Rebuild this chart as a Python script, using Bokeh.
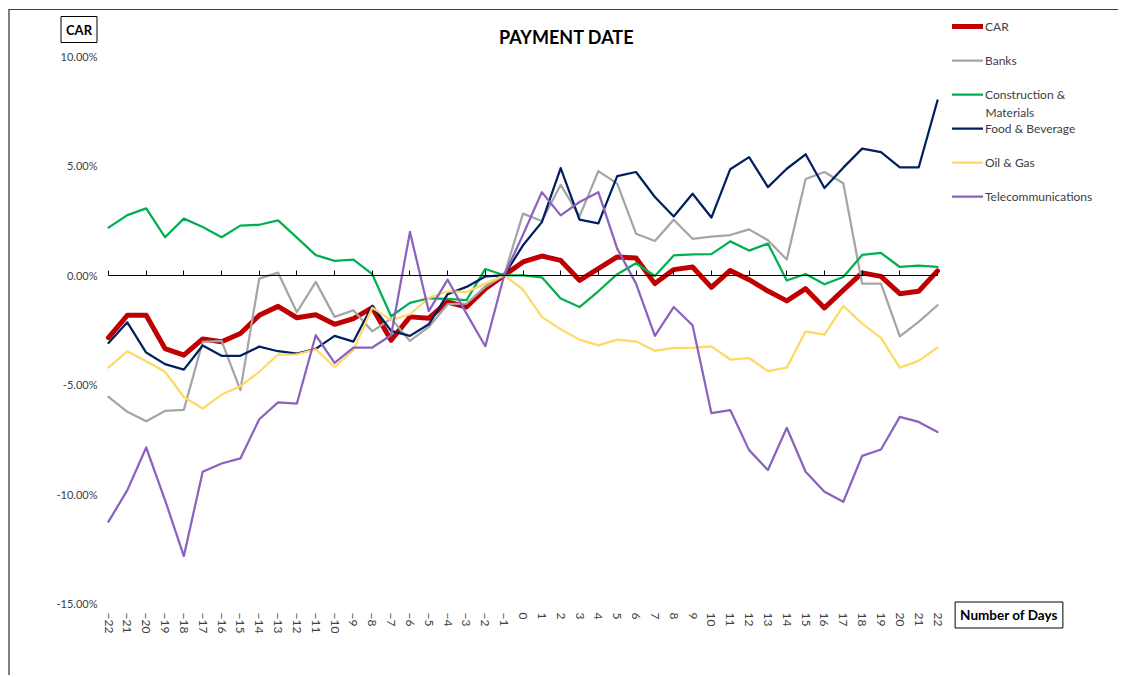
from bokeh.plotting import figure
from bokeh.models import (Range1d, LinearAxis, FixedTicker, PrintfTickFormatter,
                          Legend, LegendItem, Label, BasicTickFormatter)
from bokeh.embed import file_html
from bokeh.resources import INLINE

days = list(range(-22, 23))

car = [-2.85, -1.83, -1.83, -3.35, -3.65, -2.91, -3.04, -2.66, -1.83, -1.42, -1.94,
       -1.80, -2.24, -1.98, -1.48, -2.97, -1.90, -1.96, -1.22, -1.45, -0.61, 0.0,
       0.61, 0.88, 0.68, -0.23, 0.31, 0.84, 0.79, -0.38, 0.26, 0.38, -0.55, 0.22,
       -0.20, -0.72, -1.17, -0.61, -1.49, -0.68, 0.11, -0.05, -0.84, -0.73, 0.20]
banks = [-5.56, -6.24, -6.67, -6.20, -6.15, -3.04, -3.00, -5.25, -0.15, 0.12, -1.69,
         -0.30, -1.90, -1.60, -2.56, -1.98, -3.00, -2.36, -1.32, -1.29, -0.53, 0.0,
         2.82, 2.48, 4.14, 2.69, 4.76, 4.19, 1.90, 1.57, 2.54, 1.67, 1.77, 1.84,
         2.10, 1.60, 0.72, 4.40, 4.72, 4.21, -0.38, -0.38, -2.79, -2.13, -1.37]
construction = [2.18, 2.75, 3.06, 1.74, 2.59, 2.21, 1.74, 2.27, 2.31, 2.51, 1.72,
                0.92, 0.66, 0.72, 0.05, -1.87, -1.26, -1.05, -1.08, -1.14, 0.29, 0.0,
                0.0, -0.09, -1.06, -1.45, -0.73, 0.05, 0.55, -0.03, 0.91, 0.96, 0.97, 1.55,
                1.13, 1.45, -0.24, 0.06, -0.41, -0.08, 0.93, 1.02, 0.38, 0.44, 0.38]
food = [-3.09, -2.15, -3.53, -4.06, -4.31, -3.21, -3.68, -3.68, -3.26, -3.47, -3.58,
        -3.36, -2.77, -3.03, -1.39, -2.54, -2.77, -2.24, -0.86, -0.53, -0.05, 0.0,
        1.37, 2.43, 4.90, 2.54, 2.37, 4.53, 4.72, 3.58, 2.69, 3.73, 2.64, 4.85,
        5.40, 4.03, 4.87, 5.53, 3.99, 4.92, 5.79, 5.63, 4.93, 4.93, 7.99]
oil = [-4.22, -3.47, -3.93, -4.41, -5.56, -6.09, -5.45, -5.07, -4.41, -3.62, -3.61,
       -3.38, -4.19, -3.42, -1.48, -2.05, -1.78, -1.04, -0.73, -0.76, -0.38, 0.0,
       -0.65, -1.90, -2.47, -2.94, -3.20, -2.94, -3.03, -3.45, -3.32, -3.32, -3.25, -3.85,
       -3.78, -4.38, -4.22, -2.56, -2.71, -1.40, -2.21, -2.86, -4.22, -3.91, -3.30]
telecom = [-11.26, -9.82, -7.87, -10.27, -12.83, -8.98, -8.60, -8.37, -6.58, -5.81, -5.86,
           -2.74, -4.00, -3.30, -3.30, -2.74, 1.98, -1.64, -0.20, -1.75, -3.24, 0.0,
           1.85, 3.80, 2.74, 3.35, 3.80, 1.22, -0.38, -2.77, -1.45, -2.28, -6.30, -6.16,
           -7.99, -8.90, -6.97, -8.98, -9.89, -10.35, -8.25, -7.96, -6.47, -6.70, -7.16]

series_names = ["CAR", "Banks", "Construction &", "Food & Beverage", "Oil & Gas", "Telecommunications"]
series_names_extra = "Materials"
series_colors = ["#C00000", "#A5A5A5", "#00B050", "#002060", "#FFD966", "#8B62BD"]
series_widths = [5, 2.25, 2.25, 2.25, 2.25, 2.25]
y_ticks = [-15, -10, -5, 0, 5, 10]
x_major_ticks = days[::2]

title_text = "PAYMENT DATE"
y_title = "CAR"
x_title = "Number of Days"

FONT = "Lato"
TXT = "#404040"

# ---- layout (pixels) ----
W, H = 1110, 666
OX, OY = 10, 10                 # canvas origin on the page (margin + border)
PX_LEFT, PX_RIGHT = 108, 937    # page x of first / last day
PX_TOP, PX_BOTTOM = 56, 603     # page y of y_max / y_min
Y_MIN, Y_MAX = y_ticks[0], y_ticks[-1]

kx = (PX_RIGHT - PX_LEFT) / (days[-1] - days[0])
ky = (PX_BOTTOM - PX_TOP) / (Y_MAX - Y_MIN)
x0 = days[0] - (PX_LEFT - OX) / kx
x1 = x0 + W / kx
y1 = Y_MAX + (PX_TOP - OY) / ky
y0 = y1 - H / ky


def sx(page_x):
    return page_x - OX


def sy(page_y):
    return OY + H - page_y


p = figure(width=W, height=H, output_backend="svg", toolbar_location=None,
           x_axis_type=None, y_axis_type=None,
           x_range=Range1d(x0, x1), y_range=Range1d(y0, y1),
           min_border_left=0, min_border_right=0, min_border_top=0, min_border_bottom=0)
p.grid.visible = False
p.outline_line_color = None
p.background_fill_color = "white"
p.border_fill_color = "white"
p.styles = {"margin-left": "8px", "margin-top": "9px",
            "border-left": "2px solid #7f7f7f", "border-top": "1px solid #404040"}

# y axis (labels only), fixed at first day
yax = LinearAxis(fixed_location=days[0], ticker=FixedTicker(ticks=y_ticks),
                 formatter=PrintfTickFormatter(format="%.2f%%"))
yax.axis_line_color = None
yax.major_tick_line_color = None
yax.minor_tick_line_color = None
yax.major_tick_in = 0
yax.major_tick_out = 0
yax.major_label_standoff = 11
yax.major_label_text_font = FONT
yax.major_label_text_font_size = "11px"
yax.major_label_text_color = TXT
p.add_layout(yax, "left")

# horizontal axis line at 0 with inward ticks
zax = LinearAxis(fixed_location=0, bounds=(days[0], days[-1]), ticker=FixedTicker(ticks=x_major_ticks))
zax.axis_line_color = "black"
zax.axis_line_width = 1
zax.major_tick_in = 5
zax.major_tick_out = 0
zax.major_tick_line_color = "black"
zax.minor_tick_line_color = None
zax.major_label_text_font_size = "0px"
zax.major_label_text_color = None
p.add_layout(zax, "below")

# bottom category labels at the minimum of the value axis
xax = LinearAxis(fixed_location=Y_MIN, bounds=(days[0], days[-1]),
                 ticker=FixedTicker(ticks=days), formatter=BasicTickFormatter())
xax.axis_line_color = None
xax.major_tick_line_color = None
xax.minor_tick_line_color = None
xax.major_tick_in = 0
xax.major_tick_out = 0
xax.major_label_orientation = "vertical"
xax.major_label_standoff = 9
xax.major_label_text_font = FONT
xax.major_label_text_font_size = "12px"
xax.major_label_text_color = TXT
p.add_layout(xax, "below")

all_series = [car, banks, construction, food, oil, telecom]
items = []
for name, vals, col, w in zip(series_names, all_series, series_colors, series_widths):
    r = p.line(days, vals, line_color=col, line_width=w, line_join="round", line_cap="round")
    items.append(LegendItem(label=name, renderers=[r]))

legend = Legend(items=items, location=(sx(952), sy(204)), orientation="vertical",
                padding=0, margin=0, spacing=18, glyph_width=31, glyph_height=16,
                label_height=16, label_standoff=2,
                label_text_font=FONT, label_text_font_size="12px", label_text_color=TXT,
                border_line_color=None, background_fill_alpha=0)
p.add_layout(legend, "center")

p.add_layout(Label(x=sx(985), y=sy(112), x_units="screen", y_units="screen", text=series_names_extra,
                   text_font=FONT, text_font_size="12px", text_color=TXT,
                   text_align="left", text_baseline="middle"))

p.add_layout(Label(x=sx(566), y=sy(36), x_units="screen", y_units="screen", text=title_text,
                   text_font=FONT, text_font_size="18px", text_font_style="bold",
                   text_color="black", text_align="center", text_baseline="middle"))

p.add_layout(Label(x=sx(78.5), y=sy(29), x_units="screen", y_units="screen", text=y_title,
                   text_font=FONT, text_font_size="13px", text_font_style="bold",
                   text_color="black", text_align="center", text_baseline="middle",
                   border_line_color="black", border_line_width=1,
                   background_fill_color="white", padding=5))

p.add_layout(Label(x=sx(1008.5), y=sy(614.5), x_units="screen", y_units="screen", text=x_title,
                   text_font=FONT, text_font_size="13.5px", text_font_style="bold",
                   text_color="black", text_align="center", text_baseline="middle",
                   border_line_color="black", border_line_width=1,
                   background_fill_color="white", padding=5))

open("out.html", "w").write(file_html(p, INLINE, title="PAYMENT DATE"))
